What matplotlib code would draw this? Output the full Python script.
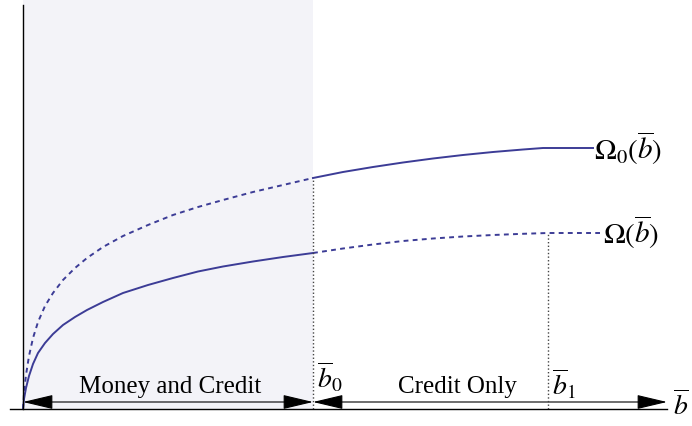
import numpy as np
import matplotlib
matplotlib.use('Agg')
import matplotlib.pyplot as plt
from matplotlib.patches import FancyArrowPatch, Rectangle

plt.rcParams['mathtext.fontset'] = 'stix'
plt.rcParams['font.family'] = ['Liberation Serif', 'DejaVu Serif']

# (x from y-axis, y up from x-axis, in pixels)
b0 = 290
b1 = 525

left_x = [0, 1, 3, 6, 10, 15, 22, 30, 40, 52, 64, 80, 100, 125, 150, 175, 200, 230, 260, 290]
omega0_left = [0, 16, 34, 53, 71, 87, 103, 116, 129, 141, 151, 162, 173, 184, 194, 202,
               209, 217, 224, 231]
omega_left = [0, 10, 21, 33, 45, 56, 66, 75, 84, 92, 99, 107, 116, 124, 131, 137.5,
              142.5, 147.5, 152, 156]

right_x = [290, 320, 350, 380, 410, 440, 470, 500, 520, 570]
omega0_right = [231, 237, 242, 246.5, 250.5, 254, 257, 259.5, 261, 261]
omega_right_x = [290, 320, 350, 380, 410, 440, 470, 500, 525, 577]
omega_right = [156, 160.5, 164.5, 168, 170.5, 172.5, 174, 175.2, 176, 176]

line_col = '#3c3c96'
dash = (0, (2.5, 2.2))

fig = plt.figure(figsize=(6.92, 4.26), dpi=100)
ax = fig.add_axes([0, 0, 1, 1])
ax.set_xlim(-23, 669)
ax.set_ylim(-17, 409)
ax.axis('off')

ax.add_patch(Rectangle((0, 0), b0, 409, facecolor='#f3f3f8', edgecolor='none', zorder=0))

# money and credit region: omega0 dashed, omega solid; credit only: the other way
ax.plot(left_x, omega0_left, color=line_col, lw=1.4, ls=dash)
ax.plot(right_x, omega0_right, color=line_col, lw=1.4)
ax.plot(left_x, omega_left, color=line_col, lw=1.4)
ax.plot(omega_right_x, omega_right, color=line_col, lw=1.4, ls=dash)

ax.plot([b0, b0], [0, omega0_right[0]], color='#444444', lw=1.0, ls=(0, (1, 1.6)))
ax.plot([b1, b1], [0, omega_right[-2]], color='#444444', lw=1.0, ls=(0, (1, 1.6)))

# axes
ax.plot([0, 0], [0, 404], color='black', lw=1.0)
ax.plot([-13, 644], [0, 0], color='black', lw=1.0)

arrow_style = '<|-|>,head_length=1.9,head_width=0.45'
for xa, xb in [(0, b0), (b0, 644)]:
    ax.add_patch(FancyArrowPatch((xa, 7), (xb, 7), arrowstyle=arrow_style,
                                 mutation_scale=10, color='black', lw=0.8,
                                 shrinkA=0, shrinkB=0))

ax.text(147, 16, 'Money and Credit', fontsize=18, ha='center', va='baseline')
ax.text(434, 16, 'Credit Only', fontsize=18, ha='center', va='baseline')
ax.text(b0 + 4, 21, r'$\overline{b}_0$', fontsize=20, ha='left', va='baseline')
ax.text(b1 + 4, 14, r'$\overline{b}_1$', fontsize=20, ha='left', va='baseline')
ax.text(650, -6, r'$\overline{b}$', fontsize=20, ha='left', va='baseline')
ax.text(571, 249, r'$\Omega_0(\overline{b})$', fontsize=21, ha='left', va='baseline')
ax.text(580, 165, r'$\Omega(\overline{b})$', fontsize=21, ha='left', va='baseline')

fig.savefig('out.png', dpi=100)
